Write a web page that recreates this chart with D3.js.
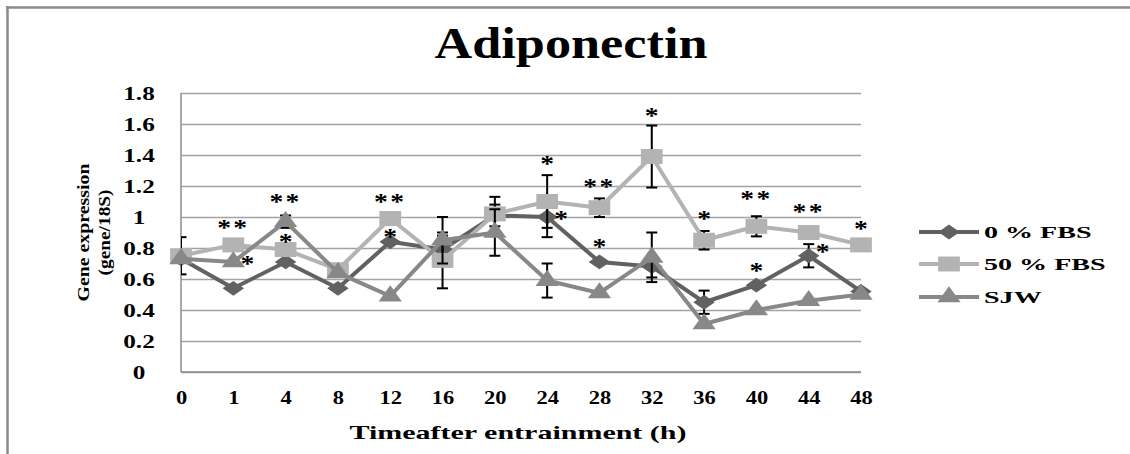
<!DOCTYPE html>
<html>
<head>
<meta charset="utf-8">
<script src="https://cdn.jsdelivr.net/npm/d3@7"></script>
<style>
    body { margin: 0; background: #fff; }
    text { font-family: "Liberation Serif", "Times New Roman", serif; font-weight: bold; }
</style>
</head>
<body>
<div id="chart"></div>
<script>
// time points (h)
var times = [0, 1, 4, 8, 12, 16, 20, 24, 28, 32, 36, 40, 44, 48];

// gene expression (gene/18S)
var fbs0 = [0.73, 0.54, 0.71, 0.54, 0.84, 0.79, 1.01, 1.00, 0.71, 0.68, 0.45, 0.56, 0.75, 0.52];
var fbs50 = [0.75, 0.82, 0.79, 0.66, 0.99, 0.72, 1.02, 1.10, 1.06, 1.39, 0.85, 0.94, 0.90, 0.82];
var sjw = [0.73, 0.71, 0.97, 0.64, 0.49, 0.85, 0.90, 0.59, 0.51, 0.74, 0.31, 0.40, 0.46, 0.50];

// error bars (0 = none shown)
var fbs0Err = [0, 0, 0, 0, 0, 0.09, 0.07, 0.13, 0, 0.07, 0.075, 0, 0.075, 0];
var fbs50Err = [0.12, 0, 0, 0, 0, 0.18, 0.11, 0.17, 0.06, 0.20, 0.06, 0.065, 0, 0];
var sjwErr = [0, 0, 0.04, 0, 0, 0.15, 0.15, 0.11, 0, 0.16, 0, 0, 0, 0];

var seriesNames = ["0 % FBS", "50 % FBS", "SJW"];
var yTicks = [0, 0.2, 0.4, 0.6, 0.8, 1, 1.2, 1.4, 1.6, 1.8];

// significance marks: time, label, level, beside marker (true) or above
var starTimes = [1, 1, 4, 4, 12, 12, 24, 24, 28, 28, 32, 36, 40, 40, 44, 44, 48];
var starLabels = ["**", "*", "**", "*", "**", "*", "*", "*", "**", "*", "*", "*", "**", "*", "**", "*", "*"];
var starLevels = [0.955, 0.72, 1.12, 0.865, 1.12, 0.90, 1.37, 1.01, 1.22, 0.83, 1.68, 1.01, 1.14, 0.68, 1.06, 0.80, 0.95];
var starBeside = [false, true, false, false, false, false, false, true, false, false, false, false, false, false, false, true, false];

var W = 1130, H = 454;
var plotLeft = 181, plotRight = 861, plotTop = 93, plotBottom = 372;
var colors = ["#616161", "#b3b3b3", "#888888"];

var svg = d3.select("#chart").append("svg")
    .attr("width", W)
    .attr("height", H);

// frame
svg.append("line").attr("x1", 6).attr("x2", W).attr("y1", 7.5).attr("y2", 7.5)
    .attr("stroke", "#8a8a8a").attr("stroke-width", 2.5);
svg.append("line").attr("x1", 7.5).attr("x2", 7.5).attr("y1", 6).attr("y2", H)
    .attr("stroke", "#8a8a8a").attr("stroke-width", 2.5);

// text in the picture is drawn wide, so stretch it
function widen(sel, k) {
    sel.each(function () {
        var len = this.getComputedTextLength();
        d3.select(this).attr("textLength", len * k).attr("lengthAdjust", "spacingAndGlyphs");
    });
}

var x = d3.scalePoint()
    .domain(times)
    .range([plotLeft, plotRight]);

var y = d3.scaleLinear()
    .domain([0, 1.8])
    .range([plotBottom, plotTop]);

// gridlines + y labels
var yAxis = svg.append("g")
    .attr("transform", "translate(" + plotLeft + ",0)")
    .call(d3.axisLeft(y).tickValues(yTicks).tickSize(-(plotRight - plotLeft))
        .tickFormat(function (d) { return String(+d.toFixed(1)); }));
yAxis.select(".domain").remove();
yAxis.selectAll(".tick line")
    .attr("stroke", "#a3a3a3")
    .attr("stroke-width", 1.3);
yAxis.selectAll(".tick text")
    .attr("font-size", 18)
    .attr("fill", "#000")
    .attr("text-anchor", "middle")
    .attr("x", -(plotLeft - 139))
    .attr("dy", "0.36em");
widen(yAxis.selectAll(".tick text"), 1.4);

// axis lines
svg.append("line").attr("x1", plotLeft).attr("x2", plotLeft).attr("y1", plotTop).attr("y2", plotBottom)
    .attr("stroke", "#8c8c8c").attr("stroke-width", 1.5);
svg.append("line").attr("x1", plotLeft).attr("x2", plotRight).attr("y1", plotBottom).attr("y2", plotBottom)
    .attr("stroke", "#8c8c8c").attr("stroke-width", 1.5);

// x labels
var xAxis = svg.append("g")
    .attr("transform", "translate(0," + plotBottom + ")")
    .call(d3.axisBottom(x).tickSize(0).tickPadding(19));
xAxis.select(".domain").remove();
xAxis.selectAll(".tick text")
    .attr("font-size", 18)
    .attr("fill", "#000");
widen(xAxis.selectAll(".tick text"), 1.25);

// title
svg.append("text")
    .attr("x", 571).attr("y", 58)
    .attr("text-anchor", "middle")
    .attr("font-size", 44)
    .attr("textLength", 273).attr("lengthAdjust", "spacingAndGlyphs")
    .text("Adiponectin");

// axis titles
svg.append("text")
    .attr("x", 518).attr("y", 439)
    .attr("text-anchor", "middle")
    .attr("font-size", 19)
    .attr("textLength", 337).attr("lengthAdjust", "spacingAndGlyphs")
    .text("Timeafter entrainment (h)");

var yTitle = svg.append("g").attr("transform", "translate(0," + ((plotTop + plotBottom) / 2) + ") rotate(-90)");
yTitle.append("text")
    .attr("x", 0).attr("y", 89)
    .attr("text-anchor", "middle")
    .attr("font-size", 16)
    .attr("textLength", 138).attr("lengthAdjust", "spacingAndGlyphs")
    .text("Gene expression");
yTitle.append("text")
    .attr("x", 0).attr("y", 110)
    .attr("text-anchor", "middle")
    .attr("font-size", 16)
    .attr("textLength", 86).attr("lengthAdjust", "spacingAndGlyphs")
    .text("(gene/18S)");

// clip for error bars
svg.append("clipPath").attr("id", "plotclip")
    .append("rect").attr("x", plotLeft).attr("y", 0).attr("width", plotRight - plotLeft + 20).attr("height", H);

var shapes = [
    { type: d3.symbolSquare, size: 110, rot: 45, sx: 1.45 },
    { type: d3.symbolSquare, size: 225, rot: 0, sx: 1.45 },
    { type: d3.symbolTriangle, size: 150, rot: 0, sx: 1.25 }
];

function marker(g, shape, cx, cy, color) {
    g.append("path")
        .attr("d", d3.symbol().type(shape.type).size(shape.size)())
        .attr("transform", "translate(" + cx + "," + cy + ") scale(" + shape.sx + ",1) rotate(" + shape.rot + ")")
        .attr("fill", color);
}

var allSeries = [fbs0, fbs50, sjw];
var allErr = [fbs0Err, fbs50Err, sjwErr];

var line = d3.line()
    .x(function (d) { return x(d.t); })
    .y(function (d) { return y(d.v); });

allSeries.forEach(function (vals, si) {
    var pts = times.map(function (t, i) { return { t: t, v: vals[i], e: allErr[si][i] }; });
    var g = svg.append("g").attr("class", "series");

    // error bars
    var eb = g.append("g").attr("clip-path", "url(#plotclip)");
    pts.filter(function (d) { return d.e > 0; }).forEach(function (d) {
        var cx = x(d.t);
        eb.append("line").attr("x1", cx).attr("x2", cx)
            .attr("y1", y(d.v + d.e)).attr("y2", y(d.v - d.e))
            .attr("stroke", "#000").attr("stroke-width", 2);
        [d.v + d.e, d.v - d.e].forEach(function (v) {
            eb.append("line").attr("x1", cx - 5.5).attr("x2", cx + 5.5)
                .attr("y1", y(v)).attr("y2", y(v))
                .attr("stroke", "#000").attr("stroke-width", 2);
        });
    });

    g.append("path")
        .datum(pts)
        .attr("d", line)
        .attr("fill", "none")
        .attr("stroke", colors[si])
        .attr("stroke-width", 4)
        .attr("stroke-linejoin", "round");

    pts.forEach(function (d) {
        marker(g, shapes[si], x(d.t), y(d.v), colors[si]);
    });
});

// asterisks
starTimes.forEach(function (t, i) {
    var s = svg.append("text")
        .attr("x", x(t) + (starBeside[i] ? 14 : 0))
        .attr("y", y(starLevels[i]) + 11)
        .attr("text-anchor", "middle")
        .attr("font-size", 24)
        .attr("font-weight", "normal")
        .attr("letter-spacing", starLabels[i].length > 1 ? 2 : 0)
        .text(starLabels[i]);
    widen(s, 1.15);
});

// legend
var legend = svg.append("g");
var legendY = [232, 264, 297];
seriesNames.forEach(function (name, i) {
    legend.append("line")
        .attr("x1", 919).attr("x2", 979)
        .attr("y1", legendY[i]).attr("y2", legendY[i])
        .attr("stroke", colors[i]).attr("stroke-width", 4);
    marker(legend, shapes[i], 949, legendY[i], colors[i]);
    var t = legend.append("text")
        .attr("x", 984).attr("y", legendY[i] + 6)
        .attr("font-size", 17)
        .text(name);
    widen(t, 1.65);
});
</script>
</body>
</html>
